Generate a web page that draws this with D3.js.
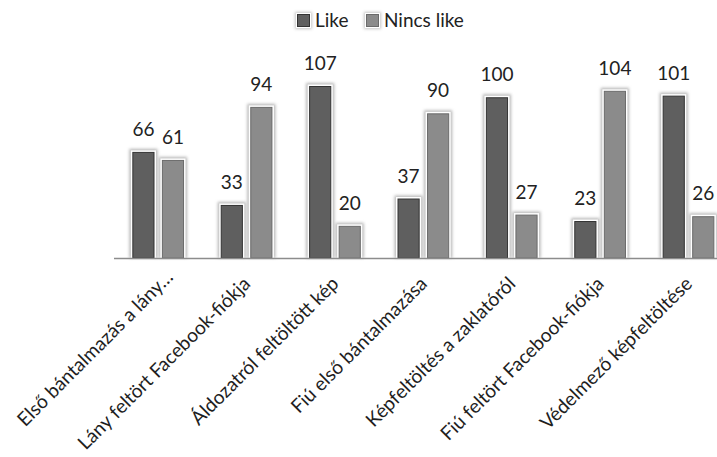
<!DOCTYPE html>
<html>
<head>
<meta charset="utf-8">
<script src="https://cdn.jsdelivr.net/npm/d3@7/dist/d3.min.js"></script>
<style>
  html, body { margin: 0; padding: 0; background: #fff; }
  svg { display: block; font-family: Lato, "Open Sans", sans-serif; }
</style>
</head>
<body>
<svg id="chart" width="717" height="457"></svg>
<script>
// Reactions to each scene: how many respondents liked it vs. did not
const categories = [
  "Első bántalmazás a lány…",
  "Lány feltört Facebook-fiókja",
  "Áldozatról feltöltött kép",
  "Fiú első bántalmazása",
  "Képfeltöltés a zaklatóról",
  "Fiú feltört Facebook-fiókja",
  "Védelmező képfeltöltése"
];
const seriesNames = ["Like", "Nincs like"];
const likeValues = [66, 33, 107, 37, 100, 23, 101];
const noLikeValues = [61, 94, 20, 90, 27, 104, 26];

const seriesValues = [likeValues, noLikeValues];
const fills = ["#5f5f5f", "#8b8b8b"];
const strokes = ["#333333", "#6a6a6a"];

const svg = d3.select("#chart");

// Soft glow drawn behind every bar
const defs = svg.append("defs");
defs.append("filter").attr("id", "glow")
  .attr("x", "-50%").attr("y", "-50%").attr("width", "200%").attr("height", "200%")
  .append("feGaussianBlur").attr("stdDeviation", 1.4);

const baseY = 258;
const x = d3.scaleBand().domain(categories).range([114, 732.7]).padding(0);
const step = x.step();
const groupW = 51.7;
const xInner = d3.scaleBand().domain(seriesNames)
  .range([(step - groupW) / 2, (step + groupW) / 2]).paddingInner(0.25);
const y = d3.scaleLinear().domain([0, 120]).range([baseY, 65.1]);

const rows = categories.map((c, i) => ({
  cat: c,
  vals: seriesNames.map((s, k) => ({ s, k, v: seriesValues[k][i] }))
}));

const groups = svg.append("g").selectAll("g").data(rows).join("g")
  .attr("transform", d => `translate(${x(d.cat)},0)`);

const bars = groups.selectAll("g.bar").data(d => d.vals).join("g").attr("class", "bar");

// halo
bars.append("rect")
  .attr("x", d => xInner(d.s) - 3)
  .attr("y", d => y(d.v) - 3)
  .attr("width", xInner.bandwidth() + 6)
  .attr("height", d => baseY - y(d.v) + 3)
  .attr("fill", "#b8b8b8")
  .attr("filter", "url(#glow)");
// white rim
bars.append("rect")
  .attr("x", d => xInner(d.s) - 1.5)
  .attr("y", d => y(d.v) - 1.5)
  .attr("width", xInner.bandwidth() + 3)
  .attr("height", d => baseY - y(d.v) + 1.5)
  .attr("fill", "#ffffff");
// bar body
bars.append("rect")
  .attr("x", d => xInner(d.s) + 0.5)
  .attr("y", d => y(d.v) + 0.5)
  .attr("width", xInner.bandwidth() - 1)
  .attr("height", d => baseY - y(d.v) - 0.5)
  .attr("fill", d => fills[d.k])
  .attr("stroke", d => strokes[d.k])
  .attr("stroke-width", 1);

// value labels
bars.append("text")
  .attr("x", d => xInner(d.s) + xInner.bandwidth() / 2)
  .attr("y", d => y(d.v) - 16)
  .attr("text-anchor", "middle")
  .attr("font-size", 19)
  .attr("fill", "#222")
  .text(d => d.v);

// category axis line
svg.append("line")
  .attr("x1", x.range()[0]).attr("x2", x.range()[1])
  .attr("y1", baseY + 0.5).attr("y2", baseY + 0.5)
  .attr("stroke", "#8c8c8c").attr("stroke-width", 1.5);

// rotated category labels; a shortened label sits a little further right
svg.append("g").selectAll("text").data(categories).join("text")
  .attr("transform", d => {
    const shift = d.endsWith("…") ? 11 : 0;
    return `translate(${x(d) + step / 2 + 5 + shift},${baseY + 27 - shift * 0.6}) rotate(-45)`;
  })
  .attr("text-anchor", "end")
  .attr("font-size", 19.2)
  .attr("fill", "#1e1e1e")
  .text(d => d);

// legend
const legendX = [297, 366];
const legend = svg.append("g").selectAll("g").data(seriesNames).join("g")
  .attr("transform", (d, i) => `translate(${legendX[i]},14)`);
legend.append("rect").attr("x", -2).attr("y", -2).attr("width", 17).attr("height", 17)
  .attr("fill", "#c4c4c4").attr("filter", "url(#glow)");
legend.append("rect").attr("x", -1).attr("y", -1).attr("width", 15).attr("height", 15)
  .attr("fill", "#fff");
legend.append("rect").attr("x", 0.5).attr("y", 0.5).attr("width", 12).attr("height", 12)
  .attr("fill", (d, i) => fills[i]).attr("stroke", (d, i) => strokes[i]);
legend.append("text").attr("x", 18).attr("y", 13.3)
  .attr("font-size", 19).attr("fill", "#222")
  .text(d => d);
</script>
</body>
</html>
